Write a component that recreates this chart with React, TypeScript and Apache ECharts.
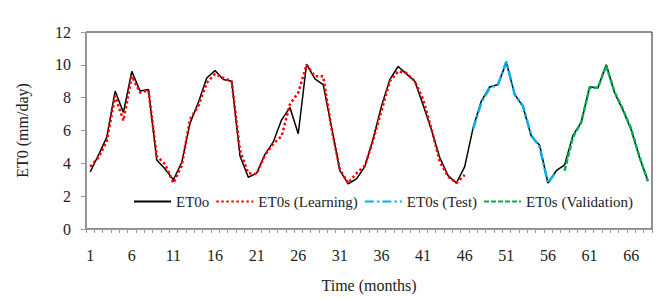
import React, { useEffect, useRef } from "react";
import * as echarts from "echarts";

const months: string[] = Array.from({ length: 68 }, (_, i) => String(i + 1));

const observed: number[] = [
  3.47, 4.5, 5.6, 8.4, 7.1, 9.6, 8.4, 8.5, 4.2, 3.65,
  3.0, 4.05, 6.45, 7.7, 9.2, 9.65, 9.1, 9.0, 4.45, 3.15,
  3.4, 4.55, 5.3, 6.65, 7.4, 5.8, 10.05, 9.15, 8.8, 6.2,
  3.55, 2.75, 3.05, 3.8, 5.5, 7.5, 9.1, 9.9, 9.45, 9.0,
  7.55, 6.05, 4.35, 3.25, 2.8, 3.8, 6.15, 7.8, 8.65, 8.8,
  10.15, 8.2, 7.45, 5.65, 5.1, 2.8, 3.55, 3.9, 5.7, 6.5,
  8.65, 8.6, 10.0, 8.3, 7.25, 6.05, 4.35, 2.95,
];

// months 1-46
const learning: number[] = [
  3.8, 4.35, 5.35, 8.1, 6.6, 9.3, 8.3, 8.45, 4.45, 3.95,
  2.8, 3.85, 6.7, 7.5, 8.9, 9.45, 9.2, 9.0, 4.8, 3.4,
  3.35, 4.5, 5.2, 5.65, 7.6, 8.3, 10.0, 9.3, 9.3, 6.1,
  3.65, 2.8, 3.4, 3.85, 5.4, 7.2, 9.0, 9.6, 9.5, 9.0,
  7.9, 6.1, 4.1, 3.2, 2.8, 3.3,
];

// months 47-57
const test: number[] = [6.1, 7.7, 8.6, 8.8, 10.2, 8.2, 7.5, 5.7, 5.0, 2.8, 3.5];

// months 58-68
const validation: number[] = [3.55, 5.6, 6.5, 8.6, 8.6, 9.95, 8.35, 7.3, 6.1, 4.4, 2.9];

const yTicks = { min: 0, max: 12, interval: 2 };

function place(values: number[], start: number): (number | null)[] {
  const out: (number | null)[] = months.map(() => null);
  values.forEach((v, i) => {
    out[start - 1 + i] = v;
  });
  return out;
}

const FONT = "'Liberation Serif', 'Times New Roman', serif";

export default function App() {
  const ref = useRef<HTMLDivElement>(null);
  useEffect(() => {
    document.body.style.margin = "0";
    if (!ref.current) return;
    const chart = echarts.init(ref.current, undefined, { renderer: "svg" });
    chart.setOption({
      animation: false,
      backgroundColor: "#ffffff",
      textStyle: { fontFamily: FONT },
      grid: {
        left: 86,
        right: 18,
        top: 32,
        bottom: 68,
        show: true,
        borderColor: "#222",
        borderWidth: 1,
        containLabel: false,
      },
      legend: {
        left: 128,
        top: 189,
        itemWidth: 37,
        itemHeight: 10,
        itemGap: 6,
        itemStyle: { opacity: 0 },
        textStyle: { fontFamily: FONT, fontSize: 15, color: "#222" },
        data: ["ET0o", "ET0s (Learning)", "ET0s (Test)", "ET0s (Validation)"],
      },
      xAxis: {
        type: "category",
        data: months,
        boundaryGap: true,
        name: "Time (months)",
        nameLocation: "middle",
        nameGap: 48,
        nameTextStyle: { fontFamily: FONT, fontSize: 16, color: "#222" },
        axisLine: { lineStyle: { color: "#999", width: 1 } },
        axisTick: { show: true, interval: 0, length: 4, lineStyle: { color: "#999" } },
        axisLabel: {
          interval: 4,
          margin: 18,
          fontFamily: FONT,
          fontSize: 16,
          color: "#222",
        },
        splitLine: { show: false },
      },
      yAxis: {
        type: "value",
        min: yTicks.min,
        max: yTicks.max,
        interval: yTicks.interval,
        name: "ET0 (mm/day)",
        nameLocation: "middle",
        nameGap: 56,
        nameTextStyle: { fontFamily: FONT, fontSize: 16, color: "#222" },
        axisLine: { show: true, lineStyle: { color: "#999", width: 1 } },
        axisTick: { show: true, length: 5, lineStyle: { color: "#999" } },
        axisLabel: { margin: 15, fontFamily: FONT, fontSize: 16, color: "#222" },
        splitLine: { show: false },
      },
      series: [
        {
          name: "ET0o",
          type: "line",
          data: observed,
          symbol: "none",
          lineStyle: { color: "#000", width: 1.5 },
          itemStyle: { color: "#000" },
          z: 2,
        },
        {
          name: "ET0s (Learning)",
          type: "line",
          data: place(learning, 1),
          symbol: "none",
          connectNulls: false,
          lineStyle: { color: "#ff0000", width: 2.5, type: [2.5, 2.5] },
          itemStyle: { color: "#ff0000" },
          z: 3,
        },
        {
          name: "ET0s (Test)",
          type: "line",
          data: place(test, 47),
          symbol: "none",
          lineStyle: { color: "#00b0f0", width: 2.5, type: [9, 3, 2.5, 3] },
          itemStyle: { color: "#00b0f0" },
          z: 3,
        },
        {
          name: "ET0s (Validation)",
          type: "line",
          data: place(validation, 58),
          symbol: "none",
          lineStyle: { color: "#00b050", width: 2.5, type: [5, 2] },
          itemStyle: { color: "#00b050" },
          z: 3,
        },
      ],
    });
    return () => chart.dispose();
  }, []);
  return <div ref={ref} style={{ width: 670, height: 298 }} />;
}
